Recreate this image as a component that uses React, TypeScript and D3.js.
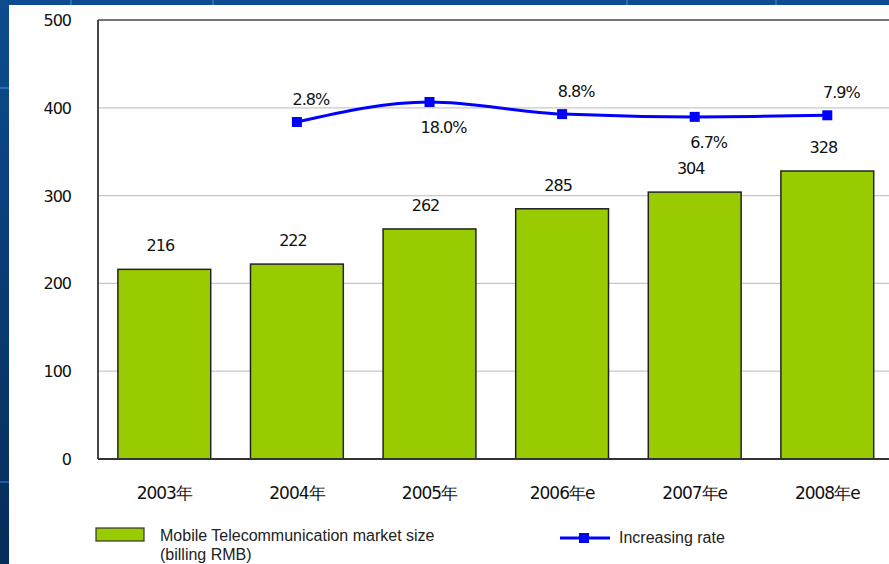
import React from "react";
import * as d3 from "d3";

const categories = ["2003年", "2004年", "2005年", "2006年e", "2007年e", "2008年e"];
const marketSize = [216, 222, 262, 285, 304, 328];
const rateCategories = ["2004年", "2005年", "2006年e", "2007年e", "2008年e"];
const rateValues = [2.8, 18.0, 8.8, 6.7, 7.9];
const rateLabels = ["2.8%", "18.0%", "8.8%", "6.7%", "7.9%"];
const rateLabelAbove = [true, false, true, false, true];
const yTicks = [0, 100, 200, 300, 400, 500];

const W = 889;
const H = 564;
const left = 98;
const top = 20;
const bottom = 459;

export default function App() {
  const x = d3.scaleBand<string>().domain(categories).range([left, left + 6 * 132.6]).paddingInner(0.3).paddingOuter(0.15);
  const y = d3.scaleLinear().domain([0, 500]).range([bottom, top]);
  const yr = d3.scaleLinear().domain([0, 18]).range([125.7, 102]);
  const cx = (c: string) => (x(c) as number) + x.bandwidth() / 2;
  const ratePts: [number, number][] = rateCategories.map((c, i) => [cx(c), yr(rateValues[i])]);
  const line = d3.line().curve(d3.curveMonotoneX)(ratePts) || "";
  const font = "'DejaVu Sans', Verdana, sans-serif";
  const lfont = "'Liberation Sans', Arial, sans-serif";

  return (
    <svg width={W} height={H} style={{ position: "absolute", left: 0, top: 0 }}>
      <defs>
        <linearGradient id="bg" x1="0" y1="0" x2="0" y2="1">
          <stop offset="0" stopColor="#0d4c90" />
          <stop offset="1" stopColor="#062c58" />
        </linearGradient>
      </defs>
      <rect x={0} y={0} width={W} height={H} fill="url(#bg)" />
      <rect x={0} y={87} width={9} height={2} fill="#2a6cc0" />
      <rect x={0} y={481} width={9} height={2} fill="#1f5aa6" />
      {[70, 212, 626, 775].map((v) => (
        <rect key={v} x={v} y={0} width={2} height={5} fill="#2a6cc0" />
      ))}
      <rect x={9} y={5} width={W - 9} height={H - 5} fill="#ffffff" />

      {yTicks.filter((t) => t > 0 && t < 500).map((t) => (
        <line key={t} x1={left} x2={W} y1={y(t)} y2={y(t)} stroke="#c8c8c8" strokeWidth={1.2} />
      ))}
      <line x1={left} x2={W} y1={top} y2={top} stroke="#444" strokeWidth={1.5} />

      {categories.map((c, i) => (
        <rect key={c} x={x(c)} y={y(marketSize[i])} width={x.bandwidth()} height={bottom - y(marketSize[i])}
          fill="#99cc00" stroke="#222" strokeWidth={1.5} />
      ))}
      <line x1={left} x2={left} y1={top} y2={bottom} stroke="#333" strokeWidth={1.8} />
      <line x1={left} x2={W} y1={bottom} y2={bottom} stroke="#333" strokeWidth={1.8} />

      {yTicks.map((t) => (
        <text key={t} x={71} y={y(t) + 6} textAnchor="end" fontFamily={font} fontSize={16} fill="#111" letterSpacing={-1}>{t}</text>
      ))}
      {categories.map((c) => (
        <text key={c} x={cx(c)} y={499} textAnchor="middle" fontFamily={font} fontSize={17} fill="#111" letterSpacing={-1}>{c}</text>
      ))}
      {categories.map((c, i) => (
        <text key={c} x={cx(c) - 4} y={y(marketSize[i]) - 18} textAnchor="middle" fontFamily={font} fontSize={16} fill="#111" letterSpacing={-1}>{marketSize[i]}</text>
      ))}

      <path d={line} fill="none" stroke="#0000ff" strokeWidth={3} />
      {ratePts.map((p, i) => (
        <rect key={i} x={p[0] - 5} y={p[1] - 5} width={10} height={10} fill="#0000ff" />
      ))}
      {ratePts.map((p, i) => (
        <text key={i} x={p[0] + 14} y={rateLabelAbove[i] ? p[1] - 17 : p[1] + 31} textAnchor="middle" fontFamily={font} fontSize={16} fill="#111" letterSpacing={-1}>{rateLabels[i]}</text>
      ))}

      <rect x={96} y={528} width={48} height={13} fill="#99cc00" stroke="#333" strokeWidth={1.2} />
      <text x={160} y={541} fontFamily={lfont} fontSize={16} fill="#222">Mobile Telecommunication market size</text>
      <text x={160} y={560} fontFamily={lfont} fontSize={16} fill="#222">(billing RMB)</text>
      <line x1={560} x2={610} y1={538} y2={538} stroke="#0000ff" strokeWidth={3} />
      <rect x={579} y={533} width={10} height={10} fill="#0000ff" />
      <text x={619} y={543} fontFamily={lfont} fontSize={16} fill="#222">Increasing rate</text>
    </svg>
  );
}
